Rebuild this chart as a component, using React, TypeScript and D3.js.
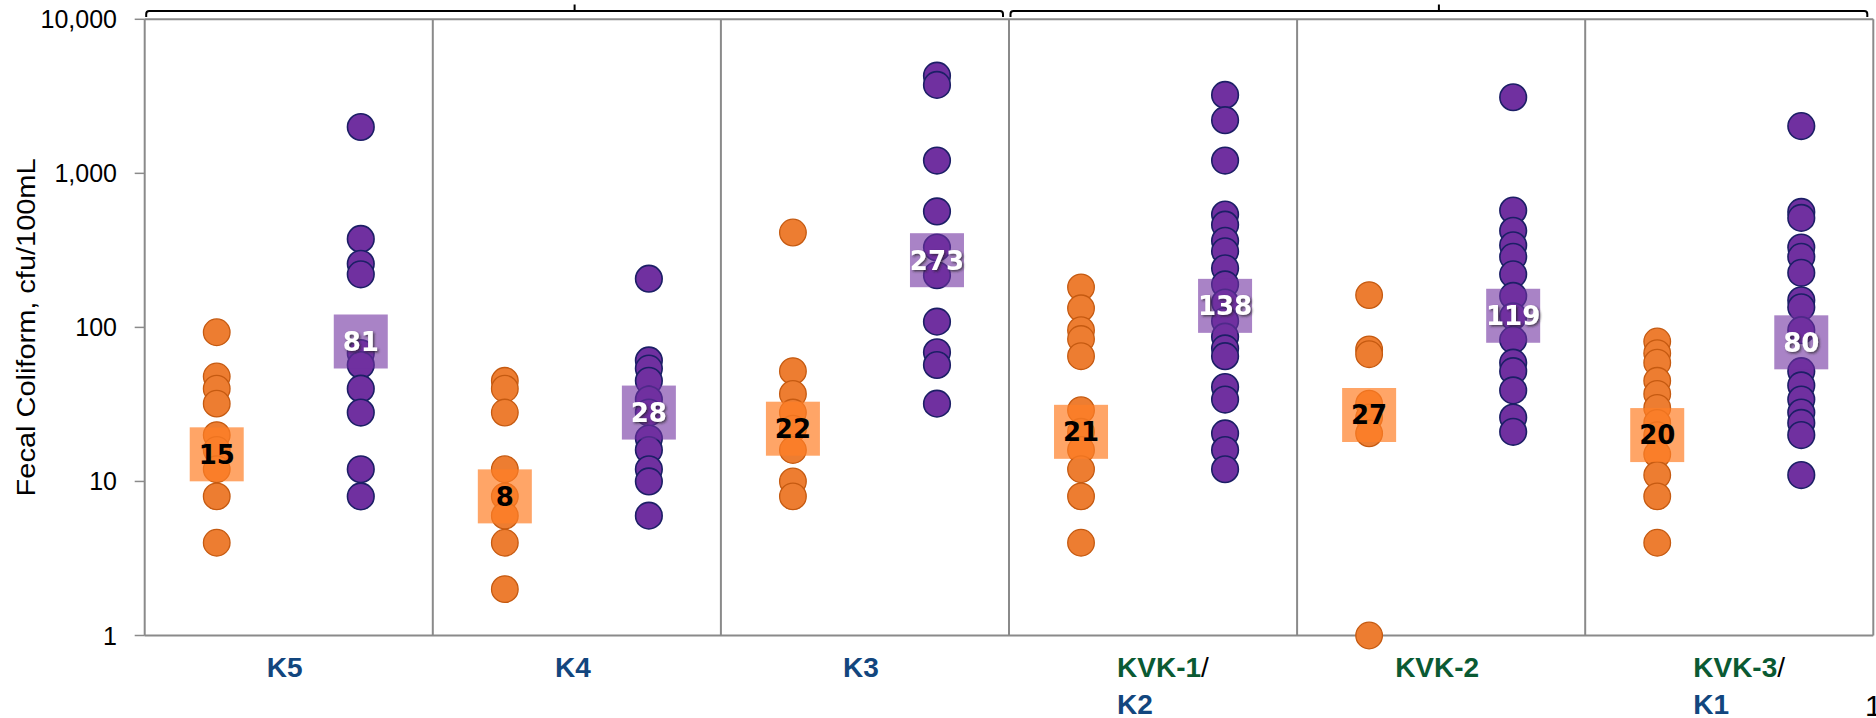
import React from "react";
import * as d3 from "d3";

// ---------- data ----------
const sites = ["K5", "K4", "K3", "KVK-1/K2", "KVK-2", "KVK-3/K1"];

// category label lines (parts), per site
const siteLabelParts: string[][][] = [
  [["K5"]],
  [["K4"]],
  [["K3"]],
  [["KVK-1", "/"], ["K2"]],
  [["KVK-2"]],
  [["KVK-3", "/"], ["K1"]],
];

// orange series (individual samples)
const seriesAValues: number[][] = [
  [93, 48, 40, 32, 20, 16, 12, 8, 4],
  [45, 40, 28, 12, 8, 6, 4, 2],
  [413, 52, 37, 28, 22, 16, 10, 8],
  [182, 133, 96, 84, 65, 29, 21, 16, 12, 8, 4],
  [162, 72, 67, 32, 26, 20.5, 1],
  [81, 68, 59, 45, 37, 30, 24, 20, 15, 11, 8, 4],
];

// purple series (individual samples)
const seriesBValues: number[][] = [
  [2000, 375, 259, 221, 68, 57, 40, 28, 12, 8],
  [207, 61, 54, 45, 34, 28, 19, 16, 12, 10, 6],
  [4305, 3752, 1211, 566, 330, 218, 109, 69, 57, 32],
  [3228, 2214, 1211, 540, 464, 365, 312, 242, 190, 145, 110, 87, 73, 65, 41, 34, 20.5, 16, 12],
  [3119, 574, 424, 341, 287, 221, 160, 118, 83, 59, 52, 39, 26, 21],
  [2026, 562, 514, 330, 287, 226, 150, 135, 96, 52, 42, 34, 28, 24, 20, 11],
];

// summary labels
const seriesASummary = [15, 8, 22, 21, 27, 20];
const seriesBSummary = [81, 28, 273, 138, 119, 80];

const yTicks = [1, 10, 100, 1000, 10000];
const yTitle = "Fecal Coliform, cfu/100mL";

// site groups shown by brackets on top
const bracketGroups = [
  ["K5", "K4", "K3"],
  ["KVK-1/K2", "KVK-2", "KVK-3/K1"],
];

// ---------- layout ----------
const W = 1876;
const H = 718;
const X0 = 144.7;
const X1 = 1873.3;
const YTOP = 19.3;
const YBOT = 635.5;

const ORANGE = "#ED7D31";
const ORANGE_STROKE = "#C55A11";
const PURPLE = "#7030A0";
const PURPLE_STROKE = "#1C1F66";
const GRID = "#8A8A8A";
const BLUE = "#12467E";
const GREEN = "#0A5A33";

export default function App() {
  const x = d3.scaleBand<string>().domain(sites).range([X0, X1]).padding(0);
  const sub = d3
    .scaleBand<string>()
    .domain(["A", "B"])
    .range([0, x.bandwidth()])
    .padding(0);
  const y = d3.scaleLog().domain([1, 10000]).range([YBOT, YTOP]);
  const fmt = d3.format(",");
  const cx = (site: string, key: string) =>
    (x(site) as number) + (sub(key) as number) + sub.bandwidth() / 2;

  const R = 13.3;
  const BOX = 54;

  const partColor = (p: string) =>
    p.startsWith("KVK") ? GREEN : p === "/" ? "#000" : BLUE;

  return (
    <svg
      width={W}
      height={H}
      style={{ position: "absolute", left: 0, top: 0, background: "#fff" }}
      fontFamily="'Liberation Sans', Arial, sans-serif"
    >
      <defs>
        <filter id="shadow" x="-30%" y="-30%" width="160%" height="160%">
          <feDropShadow dx="1.5" dy="1.5" stdDeviation="1" floodColor="#222" floodOpacity="0.7" />
        </filter>
      </defs>

      {/* top brackets */}
      {bracketGroups.map((g, i) => {
        const left = (x(g[0]) as number) + 1.5;
        const right = (x(g[g.length - 1]) as number) + x.bandwidth() - 6;
        const mid = (left + right) / 2;
        const yb = 11;
        const yEnd = 17;
        const r = 3;
        const d = `M${left},${yEnd} L${left},${yb + r} Q${left},${yb} ${left + r},${yb} L${right - r},${yb} Q${right},${yb} ${right},${yb + r} L${right},${yEnd}`;
        return (
          <g key={"br" + i}>
            <path d={d} fill="none" stroke="#000" strokeWidth={2} />
            <line x1={mid} x2={mid} y1={yb} y2={4.5} stroke="#000" strokeWidth={2} />
          </g>
        );
      })}

      {/* plot frame */}
      <line x1={X0} x2={X1} y1={YTOP} y2={YTOP} stroke={GRID} strokeWidth={2} />
      <line x1={X0} x2={X1} y1={YBOT} y2={YBOT} stroke={GRID} strokeWidth={2} />
      <line x1={X0} x2={X0} y1={YTOP} y2={YBOT} stroke={GRID} strokeWidth={2} />
      {sites.map((s) => (
        <line
          key={"sep" + s}
          x1={(x(s) as number) + x.bandwidth()}
          x2={(x(s) as number) + x.bandwidth()}
          y1={YTOP}
          y2={YBOT}
          stroke={GRID}
          strokeWidth={2}
        />
      ))}

      {/* y ticks */}
      {yTicks.map((t) => (
        <g key={"t" + t}>
          <line x1={X0 - 10} x2={X0} y1={y(t)} y2={y(t)} stroke={GRID} strokeWidth={1.5} />
          <text
            x={117}
            y={y(t)}
            dy="0.36em"
            textAnchor="end"
            fontSize={25}
            fill="#000"
          >
            {fmt(t)}
          </text>
        </g>
      ))}

      {/* y title */}
      <text
        transform={`translate(35,${(YTOP + YBOT) / 2}) rotate(-90)`}
        textAnchor="middle"
        fontSize={26}
        fontFamily="'Liberation Sans Narrow', 'Liberation Sans', Arial, sans-serif"
        textLength={338}
        lengthAdjust="spacingAndGlyphs"
        fill="#000"
      >
        {yTitle}
      </text>

      {/* dots */}
      {sites.map((s, i) => (
        <g key={"dots" + s}>
          {seriesAValues[i].map((v, j) => (
            <circle
              key={"a" + j}
              cx={cx(s, "A")}
              cy={y(v)}
              r={R}
              fill={ORANGE}
              stroke={ORANGE_STROKE}
              strokeWidth={1.3}
            />
          ))}
          {seriesBValues[i].map((v, j) => (
            <circle
              key={"b" + j}
              cx={cx(s, "B")}
              cy={y(v)}
              r={R}
              fill={PURPLE}
              stroke={PURPLE_STROKE}
              strokeWidth={1.6}
            />
          ))}
        </g>
      ))}

      {/* summary boxes */}
      {sites.map((s, i) => (
        <g key={"sum" + s}>
          <rect
            x={cx(s, "A") - BOX / 2}
            y={y(seriesASummary[i]) - BOX / 2}
            width={BOX}
            height={BOX}
            fill="#FF7F27"
            fillOpacity={0.7}
          />
          <text
            x={cx(s, "A")}
            y={y(seriesASummary[i])}
            dy="0.36em"
            textAnchor="middle"
            fontSize={26}
            fontWeight="bold"
            fontFamily="'DejaVu Sans', Verdana, sans-serif"
            fill="#000"
          >
            {seriesASummary[i]}
          </text>
          <rect
            x={cx(s, "B") - BOX / 2}
            y={y(seriesBSummary[i]) - BOX / 2}
            width={BOX}
            height={BOX}
            fill={PURPLE}
            fillOpacity={0.6}
          />
          <text
            x={cx(s, "B")}
            y={y(seriesBSummary[i])}
            dy="0.36em"
            textAnchor="middle"
            fontSize={26}
            fontWeight="bold"
            fontFamily="'DejaVu Sans', Verdana, sans-serif"
            fill="#fff"
            filter="url(#shadow)"
          >
            {seriesBSummary[i]}
          </text>
        </g>
      ))}

      {/* category labels */}
      {sites.map((s, i) => {
        const center = (x(s) as number) + x.bandwidth() / 2;
        const lines = siteLabelParts[i];
        const multi = lines.length > 1;
        return (
          <text
            key={"lab" + s}
            fontSize={28}
            fontWeight="bold"
            textAnchor={multi ? "start" : "middle"}
          >
            {lines.map((parts, li) => (
              <tspan key={li} x={multi ? center - 36 : center - 4} y={677 + li * 36.5}>
                {parts.map((p, pi) => (
                  <tspan key={pi} fill={partColor(p)} fontWeight={p === "/" ? "normal" : "bold"}>
                    {p}
                  </tspan>
                ))}
              </tspan>
            ))}
          </text>
        );
      })}

      {/* trailing text at the lower right edge, cut off in the reference too */}
      <text x={1865} y={716} fontSize={30} fill="#000">
        1
      </text>
    </svg>
  );
}
